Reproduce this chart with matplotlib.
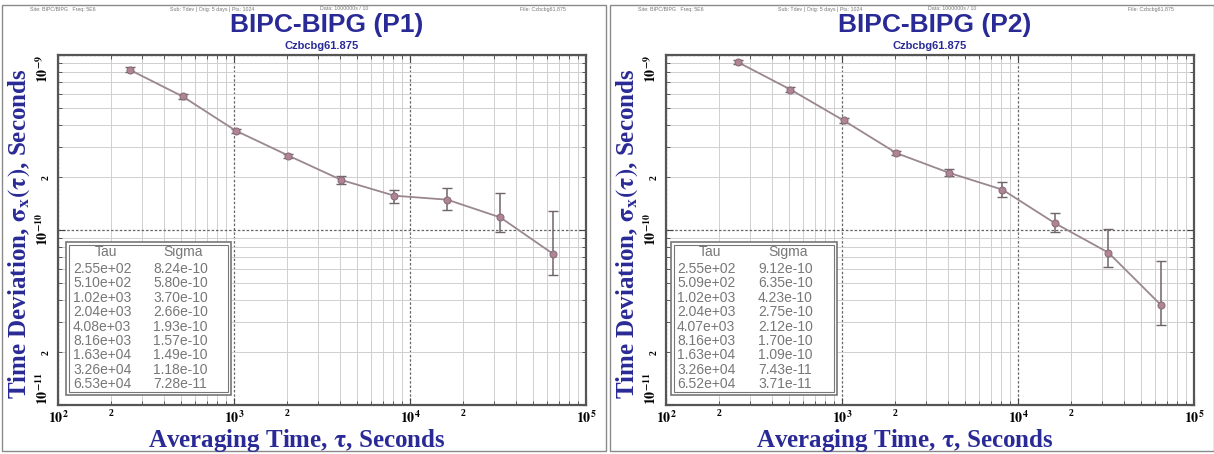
import matplotlib
matplotlib.use('Agg')
import matplotlib.pyplot as plt
import numpy as np
from matplotlib.ticker import FuncFormatter, FixedLocator
from matplotlib.patches import Rectangle

plt.rcParams['mathtext.fontset'] = 'stix'

# ---------------- data ----------------
tau_p1 = [255, 510, 1020, 2040, 4080, 8160, 16300, 32600, 65300]
sigma_p1 = [8.24e-10, 5.80e-10, 3.70e-10, 2.66e-10, 1.93e-10, 1.57e-10, 1.49e-10, 1.18e-10, 7.28e-11]
lo_p1 = [8.00e-10, 5.64e-10, 3.60e-10, 2.59e-10, 1.84e-10, 1.43e-10, 1.30e-10, 9.70e-11, 5.50e-11]
hi_p1 = [8.50e-10, 5.96e-10, 3.80e-10, 2.73e-10, 2.03e-10, 1.69e-10, 1.74e-10, 1.63e-10, 1.28e-10]

tau_p2 = [255, 509, 1020, 2040, 4070, 8160, 16300, 32600, 65200]
sigma_p2 = [9.12e-10, 6.35e-10, 4.23e-10, 2.75e-10, 2.12e-10, 1.70e-10, 1.09e-10, 7.43e-11, 3.71e-11]
lo_p2 = [8.87e-10, 6.17e-10, 4.11e-10, 2.67e-10, 2.03e-10, 1.55e-10, 9.70e-11, 6.15e-11, 2.86e-11]
hi_p2 = [9.37e-10, 6.53e-10, 4.35e-10, 2.83e-10, 2.22e-10, 1.88e-10, 1.25e-10, 1.01e-10, 6.65e-11]

titles = ["BIPC-BIPG (P1)", "BIPC-BIPG (P2)"]
subtitle = "Czbcbg61.875"
table_headers = ["Tau", "Sigma"]
header_texts = ["Site: BIPC/BIPG   Freq: 5E6", "Sub: Tdev | Orig: 5 days | Pts: 1024",
                "Data: 1000000s / 10", "File: Czbcbg61.875"]
xlabel = r"Averaging Time, $\mathbf{\tau}$, Seconds"
ylabel = r"Time Deviation, $\mathbf{\sigma_x(\tau)}$, Seconds"

x_major = [1e2, 1e3, 1e4, 1e5]
y_major = [1e-11, 1e-10, 1e-9]

W, H = 1214, 454
fig = plt.figure(figsize=(W / 100, H / 100), dpi=100)
fig.patch.set_facecolor('white')

BLUE = '#2a2a96'
LINE = '#9a8790'
MARK = '#b08494'


def fx(px):
    return px / W


def fy(py):
    return 1 - py / H


def minors(majors):
    out = []
    for m in majors[:-1]:
        out += [m * k for k in range(2, 10)]
    return out


panels = [
    dict(tau=tau_p1, sig=sigma_p1, lo=lo_p1, hi=hi_p1, left=58, title=titles[0],
         box=(66, 242, 231, 395), c1=73, c2=153, off=0),
    dict(tau=tau_p2, sig=sigma_p2, lo=lo_p2, hi=hi_p2, left=666, title=titles[1],
         box=(671, 242, 837, 395), c1=677, c2=758, off=608),
]

ax_top, ax_bot, ax_w = 55, 405, 528

# panel frames
for off in (0, 608):
    fig.add_artist(Rectangle((fx(off + 2), fy(451)), fx(604), (451 - 5) / H,
                             transform=fig.transFigure, fill=False,
                             edgecolor='#8a8a8a', lw=1.0))
    hx = [off + 30, off + 170, off + 320, off + 520]
    for t, x in zip(header_texts, hx):
        fig.text(fx(x), fy(9), t, fontsize=3.8, color='#777777', va='center', ha='left',
                 family='Liberation Sans')


def minor_fmt(v, p):
    m = v / 10 ** np.floor(np.log10(v) + 1e-9)
    return '2' if abs(m - 2) < 0.05 else ''


def major_fmt(v, p):
    e = int(np.round(np.log10(v)))
    return r'$\mathbf{10^{%d}}$' % e


for p in panels:
    ax = fig.add_axes([fx(p['left']), fy(ax_bot), fx(ax_w), (ax_bot - ax_top) / H])
    ax.set_xscale('log')
    ax.set_yscale('log')
    ax.set_xlim(x_major[0], x_major[-1])
    ax.set_ylim(y_major[0], y_major[-1])

    ax.xaxis.set_major_locator(FixedLocator(x_major))
    ax.yaxis.set_major_locator(FixedLocator(y_major))
    ax.xaxis.set_minor_locator(FixedLocator(minors(x_major)))
    ax.yaxis.set_minor_locator(FixedLocator(minors(y_major)))
    ax.xaxis.set_major_formatter(FuncFormatter(major_fmt))
    ax.yaxis.set_major_formatter(FuncFormatter(major_fmt))
    ax.xaxis.set_minor_formatter(FuncFormatter(minor_fmt))
    ax.yaxis.set_minor_formatter(FuncFormatter(minor_fmt))

    ax.grid(which='minor', color='#cfcfcf', lw=0.7, ls='-')
    ax.grid(which='major', color='#666666', lw=0.9, ls=(0, (2, 1.5)))
    ax.set_axisbelow(True)

    ax.tick_params(which='both', direction='in', top=True, right=True, colors='#444444')
    ax.tick_params(which='major', length=5, labelsize=10, labelcolor='black')
    ax.tick_params(which='minor', length=3, labelsize=7, labelcolor='black')
    ax.tick_params(axis='x', which='both', pad=3)
    ax.tick_params(axis='y', which='both', labelrotation=90, pad=5)
    for lbl in ax.get_yticklabels(which='both'):
        lbl.set_va('center')
    ylbls = ax.get_yticklabels()
    ylbls[0].set_va('bottom')
    ylbls[-1].set_va('top')
    for lbl in ax.get_xticklabels(which='minor') + ax.get_yticklabels(which='minor'):
        lbl.set_fontweight('bold')
        lbl.set_family('Liberation Serif')

    for s in ax.spines.values():
        s.set_color('#555555')
        s.set_linewidth(1.6)

    tau = np.array(p['tau'], dtype=float)
    sig = np.array(p['sig'])
    yerr = np.vstack([sig - np.array(p['lo']), np.array(p['hi']) - sig])
    ax.errorbar(tau, sig, yerr=yerr, fmt='none', ecolor='#6f6468', elinewidth=1.1,
                capsize=3.5, capthick=1.0, zorder=3)
    ax.plot(tau, sig, '-', color=LINE, lw=1.3, zorder=4)
    ax.plot(tau, sig, 'o', ms=5, mfc=MARK, mec='#8a6f7a', mew=0.8, zorder=5)

    # table box (double frame)
    x0, y0, x1, y1 = p['box']
    for ins, lw in ((0, 1.2), (3, 0.8)):
        fig.add_artist(Rectangle((fx(x0 + ins), fy(y1 - ins)), (x1 - x0 - 2 * ins) / W,
                                 (y1 - y0 - 2 * ins) / H, transform=fig.transFigure,
                                 facecolor='white' if ins == 0 else 'none',
                                 edgecolor='#777777', lw=lw, zorder=6))
    fig.text(fx(p['c1'] + 33), fy(252), table_headers[0], fontsize=10, color='#777777',
             ha='center', va='center', family='Liberation Sans', zorder=7)
    fig.text(fx(p['c2'] + 30), fy(252), table_headers[1], fontsize=10, color='#777777',
             ha='center', va='center', family='Liberation Sans', zorder=7)
    for i, (t, s_) in enumerate(zip(p['tau'], p['sig'])):
        yy = 269 + i * 14.4
        fig.text(fx(p['c1']), fy(yy), f"{t:.2e}", fontsize=10, color='#777777',
                 ha='left', va='center', family='Liberation Sans', zorder=7)
        fig.text(fx(p['c2']), fy(yy), f"{s_:.2e}", fontsize=10, color='#777777',
                 ha='left', va='center', family='Liberation Sans', zorder=7)

    cx = p['left'] + ax_w / 2
    fig.text(fx(cx + 5), fy(25), p['title'], fontsize=19, color=BLUE, ha='center',
             va='center', family='Liberation Sans', fontweight='bold')
    fig.text(fx(cx), fy(46), subtitle, fontsize=8, color=BLUE, ha='center', va='center',
             family='Liberation Sans', fontweight='bold')
    fig.text(fx(cx - 25), fy(440), xlabel, fontsize=18, color=BLUE, ha='center',
             va='center', family='Liberation Serif', fontweight='bold')
    fig.text(fx(p['off'] + 19), fy(234), ylabel, fontsize=18, color=BLUE, ha='center',
             va='center', rotation=90, family='Liberation Serif', fontweight='bold')

fig.savefig('out.png', dpi=100, facecolor='white')
